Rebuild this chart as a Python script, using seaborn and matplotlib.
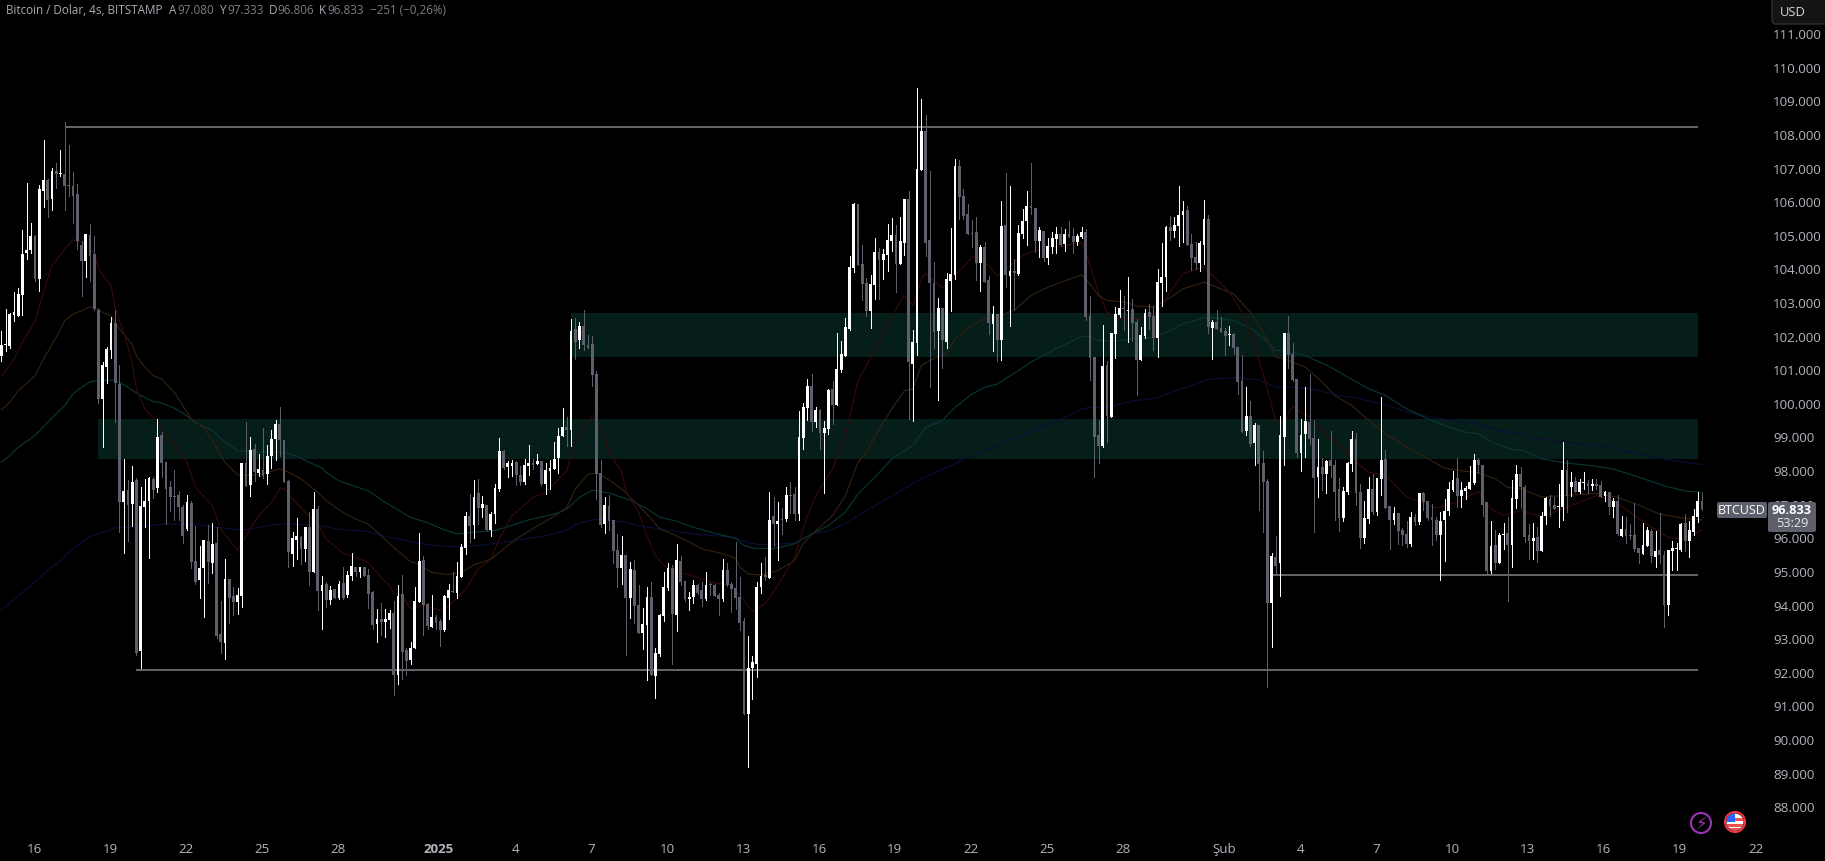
import numpy as np
import matplotlib
matplotlib.use("Agg")
import matplotlib.pyplot as plt
from matplotlib.patches import Circle, FancyBboxPatch, Rectangle
import seaborn as sns

# --- candles, BTCUSD 4h, prices in thousands ---
opens = [
    101.38,101.72,101.68,102.61,102.59,103.21,104.46,104.55,104.97,103.68,
    106.30,106.63,106.06,106.89,106.80,106.80,106.47,106.45,106.21,104.69,
    104.22,104.99,104.43,102.76,100.12,101.07,101.57,102.38,100.56,97.06,
    97.41,97.00,97.71,92.63,96.91,97.09,97.74,97.47,99.05,98.24,
    97.50,97.23,97.26,96.91,96.25,97.03,95.30,94.74,95.09,95.90,
    95.24,95.84,93.13,92.86,94.77,94.26,94.08,94.26,98.21,97.56,
    98.63,97.92,98.01,97.89,98.42,98.93,99.37,98.90,97.68,95.51,
    95.93,96.01,95.66,96.31,94.97,96.85,94.40,94.61,94.13,94.46,
    94.19,94.64,94.28,94.85,95.12,94.97,95.12,94.88,94.37,93.42,
    93.57,93.48,93.54,93.75,91.90,94.31,92.65,92.35,92.71,94.07,
    95.32,94.02,93.33,93.63,93.51,93.24,94.19,94.41,94.34,94.82,
    95.68,96.63,96.36,97.32,96.87,96.96,96.22,96.69,97.43,98.56,
    98.09,98.12,98.24,97.85,97.64,98.12,98.21,98.18,98.27,97.58,
    97.97,98.03,98.36,99.01,99.28,99.20,102.20,101.87,102.29,101.72,
    101.75,100.86,97.92,96.40,96.94,96.52,95.63,95.09,95.48,94.20,
    95.03,93.99,93.16,93.40,94.23,91.88,92.54,93.67,94.50,95.09,
    93.70,95.30,94.71,94.17,94.23,94.59,94.44,94.17,94.59,94.59,
    94.29,94.17,95.03,94.62,94.50,94.23,93.52,90.75,92.12,92.24,
    94.53,94.88,94.80,96.64,96.40,96.55,96.55,97.26,97.29,96.70,
    98.96,99.85,100.50,99.43,99.79,99.11,99.22,100.41,99.94,100.98,
    101.40,102.20,104.01,105.91,104.13,103.57,102.73,103.51,104.49,104.25,
    104.40,104.81,104.99,104.13,104.75,106.06,101.16,101.78,106.92,108.08,
    104.84,103.56,102.14,102.82,101.81,103.62,103.80,107.04,106.15,105.62,
    105.05,105.08,104.16,104.64,103.65,102.35,102.64,101.87,105.29,103.77,
    103.92,103.83,105.02,105.41,105.85,105.79,104.80,105.11,104.31,104.64,
    104.87,105.02,104.73,105.02,104.96,104.78,104.93,105.08,102.58,101.37,
    99.03,98.72,101.13,99.59,102.05,102.62,102.83,102.74,102.80,102.41,
    101.28,102.00,102.71,102.59,101.94,103.57,103.75,105.24,105.12,105.27,
    105.59,105.74,104.73,104.34,104.17,104.70,105.47,102.23,102.41,102.23,
    102.14,102.02,102.05,101.67,100.66,99.17,99.62,98.81,99.35,98.22,
    97.68,94.06,95.42,95.25,98.99,102.08,101.46,100.72,98.52,99.08,
    99.44,98.96,97.80,98.10,97.89,98.31,98.16,97.45,96.58,97.36,
    98.19,98.93,97.36,95.99,96.55,97.45,96.76,97.74,98.34,96.94,
    96.52,96.73,96.23,96.11,95.81,96.61,96.46,97.33,97.09,96.61,
    96.52,96.08,96.52,96.79,97.42,97.77,97.24,97.39,97.45,97.62,
    98.31,98.16,97.06,95.01,95.78,95.25,96.08,96.14,95.78,97.15,
    97.88,97.51,96.07,95.89,96.01,95.59,96.63,97.14,96.96,96.91,
    96.90,98.00,97.49,97.67,97.35,97.61,97.63,97.52,97.58,97.55,
    97.23,97.35,96.90,97.08,96.04,96.25,96.07,96.07,95.68,95.50,
    95.74,96.19,95.41,95.62,95.47,94.00,95.59,95.65,95.62,96.42,
    95.89,96.16,96.60,97.08,
]
closes = [
    101.72,101.74,102.64,102.71,103.24,104.43,104.55,104.97,103.68,106.36,
    106.63,106.04,106.89,106.80,106.83,106.45,106.45,106.15,104.81,104.22,
    105.02,104.38,102.79,100.12,101.13,101.60,102.38,100.59,97.06,97.38,
    96.97,97.65,92.57,96.94,97.09,97.77,97.41,98.99,98.21,97.44,
    97.20,97.21,96.91,96.04,97.06,95.27,94.68,95.09,95.93,95.27,
    95.81,93.07,92.89,94.77,94.20,94.08,94.29,98.21,97.53,98.60,
    97.95,98.04,97.83,98.42,98.93,99.37,98.90,97.65,95.57,95.98,
    96.04,95.66,96.31,94.97,96.85,94.41,94.58,94.13,94.43,94.19,
    94.61,94.19,94.88,95.15,94.97,95.12,94.85,94.31,93.39,93.57,
    93.48,93.57,93.75,91.90,94.25,92.59,92.32,92.71,94.10,95.29,
    93.99,93.36,93.63,93.45,93.24,94.25,94.43,94.37,94.85,95.71,
    96.63,96.33,97.20,96.87,96.99,96.22,96.69,97.46,98.56,98.06,
    98.21,98.21,97.85,97.64,98.15,98.21,98.15,98.27,97.58,98.00,
    98.06,98.33,99.01,99.28,99.19,102.14,101.81,102.29,101.72,101.63,
    100.83,97.89,96.37,96.97,96.49,95.60,95.09,95.48,94.20,95.06,
    93.96,93.16,93.43,94.23,91.91,92.57,93.70,94.53,95.09,93.73,
    95.33,94.68,94.17,94.23,94.59,94.35,94.17,94.59,94.57,94.26,
    94.17,95.03,94.59,94.47,94.20,93.46,90.75,92.12,92.30,94.53,
    94.85,94.82,96.52,96.40,96.49,96.53,97.26,97.24,96.70,98.99,
    99.88,100.50,99.43,99.79,99.11,99.25,100.38,99.94,101.01,101.45,
    102.26,104.04,105.91,104.10,103.54,102.73,103.54,104.49,104.25,104.43,
    104.84,104.99,104.13,104.81,106.06,101.22,101.81,106.95,108.08,104.75,
    103.56,102.11,102.82,101.87,103.68,103.83,107.04,106.12,105.56,105.02,
    105.03,104.16,104.64,103.60,102.38,102.64,101.87,105.26,103.80,103.92,
    103.86,105.05,105.41,105.85,105.79,104.80,105.14,104.31,104.67,104.90,
    105.02,104.70,105.02,104.93,104.78,104.96,105.08,102.55,101.34,98.99,
    98.72,101.10,99.62,102.08,102.65,102.83,102.80,102.77,102.38,101.28,
    102.03,102.68,102.56,101.94,103.60,103.75,105.24,105.12,105.30,105.59,
    105.71,104.70,104.31,104.17,104.76,105.47,102.26,102.41,102.20,102.11,
    101.99,102.05,101.64,100.63,99.14,99.62,98.78,99.35,98.19,97.65,
    94.06,95.45,95.16,99.05,102.08,101.43,100.69,98.52,99.05,99.47,
    98.93,97.77,98.10,97.89,98.28,98.13,97.36,96.58,97.39,98.22,
    98.93,97.33,95.99,96.58,97.45,96.76,97.77,98.31,96.88,96.52,
    96.73,96.20,96.08,95.81,96.61,96.46,97.33,97.06,96.58,96.52,
    96.08,96.49,96.79,97.45,97.71,97.24,97.42,97.48,97.65,98.31,
    98.16,96.97,95.01,95.75,95.25,96.08,96.10,95.78,97.18,97.89,
    97.51,96.02,95.89,95.97,95.59,96.63,97.16,96.93,96.84,96.93,
    98.00,97.23,97.66,97.35,97.64,97.64,97.52,97.58,97.52,97.20,
    97.35,96.90,97.08,96.10,96.25,96.04,96.04,95.65,95.53,95.77,
    96.22,95.44,95.59,95.47,93.99,95.62,95.68,95.68,96.39,95.89,
    96.22,96.63,97.08,96.83,
]
highs = [
    102.14,102.79,102.66,103.31,103.42,105.14,106.54,105.35,104.99,106.48,
    107.82,106.66,106.98,107.13,107.52,108.35,107.67,106.86,106.51,104.81,
    105.02,105.32,104.96,102.79,101.21,101.66,102.55,102.76,101.13,98.33,
    97.71,98.13,97.77,97.50,97.74,97.80,97.80,99.52,99.14,98.24,
    97.68,98.00,97.38,96.97,97.26,97.09,96.34,95.75,95.93,96.37,
    96.43,96.31,94.11,95.36,94.77,94.53,94.50,98.21,99.43,98.99,
    98.78,98.48,99.25,98.75,99.20,99.49,99.88,98.90,97.71,96.16,
    96.58,96.04,96.31,96.76,97.35,96.94,94.84,94.68,94.54,94.46,
    94.69,95.13,95.01,95.53,95.12,95.12,95.12,95.06,94.40,93.87,
    94.05,93.87,93.84,94.10,94.58,94.88,92.71,92.89,94.52,96.13,
    95.44,94.05,94.28,93.69,93.57,94.28,94.61,94.97,95.28,95.80,
    96.75,97.29,97.70,97.73,97.23,96.96,96.75,97.58,98.95,98.59,
    98.27,98.30,98.27,98.12,98.33,98.74,98.33,98.47,98.27,98.21,
    98.30,98.83,99.25,99.84,99.57,102.50,102.53,102.41,102.76,102.02,
    101.99,100.95,98.30,97.20,97.26,96.52,96.10,96.04,95.48,95.27,
    95.33,94.59,93.90,94.53,94.68,92.71,93.73,94.97,95.24,95.18,
    95.81,95.45,94.71,94.38,94.73,94.62,94.68,94.97,94.65,94.62,
    94.35,95.35,95.24,94.68,95.86,94.83,93.61,93.07,92.48,94.68,
    95.24,95.42,97.35,97.20,97.05,96.88,97.50,97.65,97.50,99.76,
    100.00,100.71,100.86,99.88,99.82,99.46,100.41,100.65,102.08,101.84,
    102.53,104.37,105.94,105.91,104.70,103.71,103.80,104.90,104.61,104.58,
    105.32,105.50,105.29,105.53,106.06,106.30,102.17,109.36,109.04,108.56,
    106.89,104.19,103.12,102.82,103.86,105.20,107.25,107.22,106.36,105.91,
    105.44,105.53,104.70,104.78,103.77,102.88,102.64,106.00,106.84,106.45,
    104.28,105.29,105.76,106.30,107.13,105.79,105.23,105.11,104.90,105.08,
    105.23,105.23,105.17,105.41,105.20,105.02,105.23,105.17,103.18,101.37,
    99.50,102.32,101.25,102.08,102.86,103.36,103.18,103.75,103.09,102.50,
    102.26,102.80,102.95,102.89,103.99,104.76,105.27,105.56,105.53,106.45,
    106.00,105.86,105.03,104.79,104.82,106.04,105.59,102.47,102.77,102.56,
    102.23,102.29,102.08,101.67,101.43,100.48,100.06,99.41,99.35,98.58,
    97.74,95.54,96.05,99.62,102.08,102.59,101.79,100.72,99.53,100.48,
    100.86,99.50,98.93,98.37,98.31,99.17,98.31,97.77,97.51,98.25,
    99.17,99.11,97.59,97.09,97.80,97.89,97.77,100.18,98.61,96.94,
    96.91,96.73,96.29,96.49,96.76,96.70,97.33,97.36,97.09,97.00,
    96.61,96.76,97.15,97.65,97.98,98.37,97.65,97.54,98.13,98.49,
    98.37,98.16,97.06,96.49,96.23,96.14,96.44,96.61,97.71,98.16,
    98.08,97.55,96.41,96.44,96.30,96.75,97.20,97.26,97.20,97.58,
    98.85,98.29,97.93,97.78,97.73,97.93,97.70,97.73,97.73,97.68,
    97.38,97.35,97.17,97.26,96.63,96.60,96.39,97.02,95.68,96.42,
    96.30,96.25,96.19,96.72,95.59,95.62,95.89,95.83,96.42,96.69,
    96.48,96.84,97.35,97.33,
]
lows = [
    101.24,101.54,101.62,102.43,102.57,102.61,104.28,104.46,103.62,103.33,
    105.82,105.53,105.74,106.39,106.75,105.73,106.15,105.35,104.57,103.19,
    103.74,103.62,102.76,100.00,98.69,100.59,101.34,99.43,96.16,95.54,
    95.90,96.34,92.51,92.12,96.31,95.39,97.17,97.35,97.80,96.40,
    96.79,96.52,96.52,95.84,96.22,95.09,94.62,94.20,93.64,94.65,
    94.95,93.01,92.57,92.39,93.46,93.70,93.73,93.93,97.53,97.23,
    97.68,97.83,97.77,97.59,98.07,98.30,98.42,97.65,95.12,95.15,
    95.36,95.21,95.30,94.59,94.97,93.84,93.27,93.93,94.02,94.19,
    94.16,94.16,94.22,94.73,94.86,94.82,94.85,93.90,93.27,92.89,
    93.09,93.03,93.30,91.31,91.64,91.79,91.90,92.23,92.71,94.07,
    93.09,93.27,93.33,93.27,92.77,93.21,93.57,94.37,94.19,94.82,
    95.50,95.86,95.98,96.39,96.60,96.22,96.04,96.42,97.37,98.03,
    97.79,97.82,97.55,97.55,97.58,97.85,98.03,98.18,97.55,97.29,
    97.43,98.03,97.91,99.01,98.71,98.72,101.31,101.63,101.57,101.63,
    100.50,97.14,96.31,96.13,96.22,95.24,94.53,94.62,92.51,93.61,
    93.46,93.16,92.68,91.76,91.91,91.23,92.48,93.52,94.44,92.24,
    93.22,94.59,94.11,93.84,94.05,94.32,93.96,94.14,94.29,94.26,
    93.70,94.11,94.56,93.78,93.87,93.25,90.75,89.18,91.20,91.85,
    94.35,94.74,94.80,95.75,95.33,96.10,96.49,96.73,96.52,96.52,
    98.63,99.49,99.17,99.28,98.63,97.32,99.08,99.37,99.94,100.92,
    101.40,102.17,103.89,104.10,103.06,102.58,102.23,103.09,103.09,103.68,
    103.92,104.52,103.30,104.13,104.40,99.52,99.46,101.42,106.92,104.37,
    100.47,101.63,100.09,101.04,101.63,102.73,103.68,105.47,105.47,105.02,
    104.64,103.65,103.33,103.60,102.05,101.54,101.25,101.28,103.45,102.29,
    102.76,103.80,104.90,104.70,105.62,104.49,104.34,104.22,104.13,104.46,
    104.46,104.67,104.52,104.93,104.46,104.70,104.90,102.46,100.68,97.79,
    98.22,98.69,98.84,99.59,101.34,102.56,102.17,101.82,101.85,100.24,
    101.28,101.94,102.20,101.58,101.37,102.89,103.33,104.85,104.94,104.67,
    104.79,104.70,103.96,103.99,103.93,104.14,102.08,101.31,102.20,102.11,
    101.43,101.73,101.46,100.27,99.14,99.05,98.72,98.16,96.82,96.17,
    91.56,92.75,94.89,94.26,98.16,101.04,100.66,98.40,97.98,98.40,
    98.78,96.17,97.21,97.42,97.33,97.80,96.52,96.20,96.49,97.30,
    97.98,96.97,95.69,95.84,96.43,96.70,96.67,97.27,96.88,95.66,
    96.41,95.81,95.78,95.72,95.75,96.38,96.41,96.82,96.52,95.78,
    95.93,94.74,95.31,96.67,97.39,96.91,96.91,97.15,97.45,97.59,
    97.92,96.64,94.92,94.95,95.07,95.25,95.66,94.12,95.13,96.88,
    96.88,95.85,95.37,95.35,95.27,95.59,96.39,96.63,96.84,96.30,
    96.51,96.76,97.23,97.35,97.31,97.43,97.31,97.42,97.43,97.20,
    97.09,96.69,96.60,96.07,96.04,95.83,95.95,95.59,95.23,95.50,
    95.74,95.26,95.12,95.23,93.33,93.69,95.03,95.03,95.59,95.59,
    95.41,96.07,96.45,96.81,
]
assert len(opens) == len(closes) == len(highs) == len(lows), (len(opens), len(closes), len(highs), len(lows))

# --- moving averages (candle number, price) ---
red_x = [0,3,5,8,10,12,15,17,19,22,23,26,27,29,31,32,34,37,39,42,44,46,50,52,56,58,61,64,66,67,69,72,75,77,81,83,87,90,92,93,95,97,100,104,106,110,113,116,118,121,126,129,134,136,140,142,144,147,148,151,153,155,157,159,164,168,173,175,178,181,184,188,191,193,197,200,203,205,208,211,214,216,218,219,223,226,230,231,234,236,239,242,245,256,257,259,260,262,265,270,274,277,280,285,287,291,294,297,300,302,304,306,308,310,313,317,319,322,324,328,330,333,336,340,345,350,353,356,360,365,371,378,382,386,390,395,399,403]
red_y = [100.79,101.30,101.80,102.44,103.29,104.08,104.57,104.85,104.79,104.48,103.98,103.49,102.79,102.10,101.20,100.41,99.82,99.40,99.03,98.63,98.23,97.49,96.95,96.25,95.61,96.05,96.65,97.04,97.44,97.46,97.14,96.75,96.39,95.95,95.53,95.45,95.25,94.81,94.56,94.34,94.26,93.87,93.99,93.83,93.95,94.46,95.06,95.35,95.95,96.64,97.19,97.34,97.98,98.82,99.64,99.22,98.53,97.94,97.39,96.75,96.05,95.46,95.16,95.01,94.86,94.67,94.57,94.27,93.79,94.02,94.57,95.41,96.65,97.24,98.04,99.03,100.66,101.11,101.80,102.59,103.19,102.89,103.68,103.86,103.41,103.78,104.33,104.38,104.08,103.78,104.08,104.38,104.53,104.77,104.48,103.68,103.29,102.70,102.50,102.50,102.70,103.29,103.84,104.04,103.79,103.29,102.70,101.71,100.42,99.45,99.43,99.90,99.71,99.58,99.18,98.73,98.49,98.14,97.94,97.84,97.59,97.20,97.07,96.87,97.05,97.37,96.85,96.65,96.80,96.62,96.89,97.24,97.09,96.74,96.39,96.00,95.95,96.22]

brown_x = [0,2,4,8,10,13,15,17,19,21,23,24,26,28,31,32,34,36,38,41,43,45,48,50,53,56,58,61,64,66,68,71,75,77,81,84,87,90,93,97,98,102,106,109,112,116,118,122,127,131,134,136,139,141,143,147,151,154,156,159,163,166,171,174,175,177,180,184,188,190,193,197,200,203,205,208,211,214,216,218,220,224,226,230,233,236,240,244,248,252,256,257,260,262,266,269,273,276,280,285,287,292,296,299,302,304,309,313,316,320,324,328,335,338,342,346,350,354,357,360,365,372,378,383,388,393,399,403]
brown_y = [99.79,100.02,100.36,100.81,101.30,101.95,102.44,102.64,102.74,102.86,102.79,102.69,102.59,102.20,101.75,101.40,101.06,100.81,100.71,100.31,99.92,99.52,99.27,98.88,98.23,97.86,97.84,97.87,97.96,98.04,97.94,97.74,97.34,97.09,96.74,96.54,96.39,96.05,95.70,95.27,95.25,94.96,94.89,94.96,95.18,95.35,95.55,95.95,96.34,96.62,96.89,97.43,97.88,97.91,97.79,97.44,96.95,96.55,96.25,96.10,95.86,95.66,95.51,95.38,95.11,94.91,94.88,95.01,95.31,95.81,96.20,96.65,97.24,98.23,98.53,99.22,99.82,100.36,100.41,101.11,101.26,101.48,101.90,102.30,102.51,102.57,102.76,103.19,103.44,103.63,103.81,103.68,103.19,103.05,103.00,102.88,102.85,103.05,103.39,103.59,103.49,103.24,102.70,102.10,101.36,101.31,101.06,100.62,100.22,99.92,99.48,99.08,98.54,98.34,98.06,97.98,97.92,97.74,97.48,97.45,97.20,97.26,97.31,97.19,96.96,96.69,96.56,96.52]

teal_x = [0,2,4,8,11,15,17,19,21,23,26,28,30,33,36,38,41,43,46,50,53,56,58,62,67,70,73,76,77,80,87,91,97,101,105,108,110,117,121,125,131,134,137,140,141,144,149,153,156,160,164,169,174,176,178,183,188,192,196,200,203,207,211,215,216,219,223,226,230,233,236,241,244,249,254,256,258,260,264,268,273,277,280,285,287,292,297,300,302,304,309,315,319,324,328,333,338,343,347,350,354,358,361,365,371,377,382,389,394,399,403]
teal_y = [98.23,98.43,98.68,99.03,99.42,99.92,100.27,100.46,100.63,100.66,100.68,100.61,100.46,100.22,100.04,100.00,99.84,99.70,99.42,99.18,98.83,98.58,98.55,98.53,98.53,98.41,98.23,98.06,97.93,97.68,97.38,97.04,96.59,96.44,96.22,96.10,96.13,96.20,96.36,96.52,96.69,96.84,97.19,97.40,97.39,97.32,97.11,96.85,96.60,96.48,96.30,96.12,95.97,95.76,95.68,95.66,95.81,96.10,96.35,96.75,97.29,97.79,98.33,98.65,98.73,99.27,99.47,99.87,100.26,100.46,100.56,100.96,101.21,101.55,101.85,101.98,101.98,101.85,101.84,101.91,101.94,102.15,102.35,102.53,102.53,102.45,102.15,101.81,101.56,101.56,101.41,101.06,100.77,100.42,100.22,99.82,99.53,99.28,99.13,99.08,98.78,98.62,98.57,98.33,98.21,98.13,98.03,97.75,97.53,97.38,97.34]

navy_x = [0,3,7,11,14,17,21,24,27,28,31,35,39,44,47,51,56,58,61,65,68,76,80,87,91,97,102,108,114,120,125,129,133,137,140,142,147,151,156,164,169,174,177,180,188,192,196,200,203,218,225,230,236,241,247,252,256,258,260,263,268,274,279,282,286,292,298,302,307,312,317,321,328,334,340,350,355,360,362,370,380,387,395,403]
navy_y = [93.82,94.17,94.57,95.01,95.31,95.66,96.03,96.15,96.28,96.30,96.30,96.35,96.40,96.38,96.37,96.30,96.23,96.23,96.30,96.38,96.40,96.34,96.24,96.17,96.03,95.87,95.77,95.71,95.77,95.87,95.97,96.05,96.17,96.42,96.52,96.55,96.47,96.35,96.25,96.10,96.05,95.99,95.84,95.78,95.83,96.10,96.20,96.40,96.65,97.74,98.13,98.43,98.73,98.98,99.32,99.57,99.82,99.87,99.87,99.90,100.05,100.15,100.40,100.52,100.70,100.75,100.69,100.47,100.47,100.37,100.22,100.15,99.94,99.70,99.55,99.38,99.18,99.08,98.97,98.84,98.70,98.50,98.31,98.16]

assert len(red_x) == len(red_y) and len(brown_x) == len(brown_y)
assert len(teal_x) == len(teal_y) and len(navy_x) == len(navy_y)

# --- hand drawn levels and supply zones: (first candle, last candle, price) ---
level_starts = [15, 32, 301]
level_prices = [108.20, 92.05, 94.88]
zone_starts = [23, 135]
zone_lows = [98.33, 101.37]
zone_highs = [99.52, 102.67]
chart_end = 402

# --- axis labels ---
price_ticks = list(range(88, 112))
day_offsets = [0,3,6,9,12,16,19,22,25,28,31,34,37,40,43,47,50,53,56,59,62,65,68]
day_labels = ["16","19","22","25","28","2025","4","7","10","13","16","19","22","25","28","Şub","4","7","10","13","16","19","22"]
CANDLES_PER_DAY = 6
FIRST_TICK = 7.75

W, H = 1825, 862
PANE_R, PANE_B = 1770, 836
PX_PER_CANDLE = 4.22
PX_PER_K = 33.62

BG = "#000000"
UP = "#ffffff"
DOWN = "#5d606b"
TICK = "#b2b5be"

sns.set_theme(style="dark", rc={"axes.facecolor": BG, "figure.facecolor": BG, "axes.grid": False})
plt.rcParams["font.family"] = ["Open Sans", "DejaVu Sans"]

fig = plt.figure(figsize=(W / 100, H / 100), dpi=100, facecolor=BG)
ax = fig.add_axes([0, 1 - PANE_B / H, PANE_R / W, PANE_B / H])
ax.set_facecolor(BG)

idx = np.arange(len(opens))
o, c, hi, lo = map(np.array, (opens, closes, highs, lows))
up = c >= o

# zones first, everything else sits on them
for s, z0, z1 in zip(zone_starts, zone_lows, zone_highs):
    ax.add_patch(Rectangle((s, z0), chart_end - s, z1 - z0, fc="#061e19", ec="none", zorder=1))

# moving averages, very dim on the original
for xs, ys, col in [(navy_x, navy_y, "#0b0d36"), (teal_x, teal_y, "#0a3535"),
                    (brown_x, brown_y, "#33200f"), (red_x, red_y, "#330b0b")]:
    sns.lineplot(x=xs, y=ys, color=col, linewidth=0.85, estimator=None, sort=False, ax=ax, zorder=2)

for s, p in zip(level_starts, level_prices):
    ax.hlines(p, s, chart_end, color="#787878", linewidth=1.2, zorder=3)

# candles: one pixel wicks, three pixel bodies
for mask, col in [(~up, DOWN), (up, UP)]:
    ax.vlines(idx[mask], lo[mask], hi[mask], color=col, linewidth=0.6, zorder=4, antialiased=False)
    bottoms = np.minimum(o, c)[mask]
    heights = np.maximum(np.abs(c - o)[mask], 0.03)
    ax.bar(idx[mask], heights, bottom=bottoms, width=0.66, color=col, linewidth=0, zorder=5, antialiased=False)

ax.set_xlim(-1.33 / PX_PER_CANDLE, (PANE_R - 1.33) / PX_PER_CANDLE)
ax.set_ylim(88 + (807.3 - PANE_B) / PX_PER_K, 88 + 807.3 / PX_PER_K)

ax.yaxis.tick_right()
ax.set_yticks(price_ticks)
ax.set_yticklabels([f"{p:.3f}" for p in price_ticks], fontsize=9.6, color=TICK)
ax.set_xticks([FIRST_TICK + d * CANDLES_PER_DAY for d in day_offsets])
ax.set_xticklabels(day_labels, fontsize=9.6, color=TICK)
for lab in ax.get_xticklabels():
    if lab.get_text() == "2025":
        lab.set_fontweight("bold")
ax.tick_params(axis="y", length=0, pad=2.2)
ax.tick_params(axis="x", length=0, pad=5)
for sp in ax.spines.values():
    sp.set_visible(False)
ax.set_xlabel("")
ax.set_ylabel("")

# overlay in pixel coordinates for the TradingView furniture
ov = fig.add_axes([0, 0, 1, 1], zorder=10)
ov.set_xlim(0, W)
ov.set_ylim(H, 0)
ov.axis("off")
ov.patch.set_alpha(0)

# header line
HEAD = "#a8abb3"
DIM = "#7c7f88"
HEAD_SIZE = 8.4
ov.text(6, 11, "Bitcoin / Dolar, 4s, BITSTAMP", color=HEAD, fontsize=HEAD_SIZE, va="center")
for x, letter, val in [(169, "A", "97.080"), (219, "Y", "97.333"), (269, "D", "96.806"), (319, "K", "96.833")]:
    ov.text(x, 11, letter, color=HEAD, fontsize=HEAD_SIZE, va="center")
    ov.text(x + 8, 11, val, color=DIM, fontsize=HEAD_SIZE, va="center")
ov.text(370, 11, "−251 (−0,26%)", color=DIM, fontsize=HEAD_SIZE, va="center")

# currency button
ov.add_patch(FancyBboxPatch((1772, -4), 60, 29, boxstyle="round,pad=0,rounding_size=4",
                            fc="#141414", ec="#2e2e2e", lw=1))
ov.text(1780, 13, "USD", color="#d1d4dc", fontsize=9.4, va="center")

# last price tags
ov.add_patch(FancyBboxPatch((1717, 503), 50, 16, boxstyle="round,pad=0,rounding_size=2", fc=DOWN, ec="none"))
ov.add_patch(FancyBboxPatch((1768, 503), 48, 30, boxstyle="round,pad=0,rounding_size=2", fc=DOWN, ec="none"))
ov.text(1742, 511, "BTCUSD", color="#ffffff", fontsize=9, ha="center", va="center")
ov.text(1792, 511, "96.833", color="#ffffff", fontsize=9.2, fontweight="bold", ha="center", va="center")
ov.text(1792, 524, "53:29", color="#e4e5ea", fontsize=9.2, ha="center", va="center")

# event icons
ov.add_patch(Circle((1701, 824), 10, fc=BG, ec="#9c35b5", lw=1.5))
ov.text(1701, 824, "⚡", color="#9c35b5", fontsize=12, ha="center", va="center", family="DejaVu Sans")

flag = Circle((1735, 823), 8.5, fc="#ffffff", ec="none")
ov.add_patch(flag)
for y in (819, 825, 829):
    r = ov.add_patch(Rectangle((1725, y), 20, 3, fc="#ef5350", ec="none"))
    r.set_clip_path(flag)
r = ov.add_patch(Rectangle((1725, 814), 10, 9, fc="#2962ff", ec="none"))
r.set_clip_path(flag)
ov.add_patch(Circle((1735, 823), 10, fc="none", ec="#f23645", lw=1.5))

fig.savefig("out.png", dpi=100, facecolor=BG)
